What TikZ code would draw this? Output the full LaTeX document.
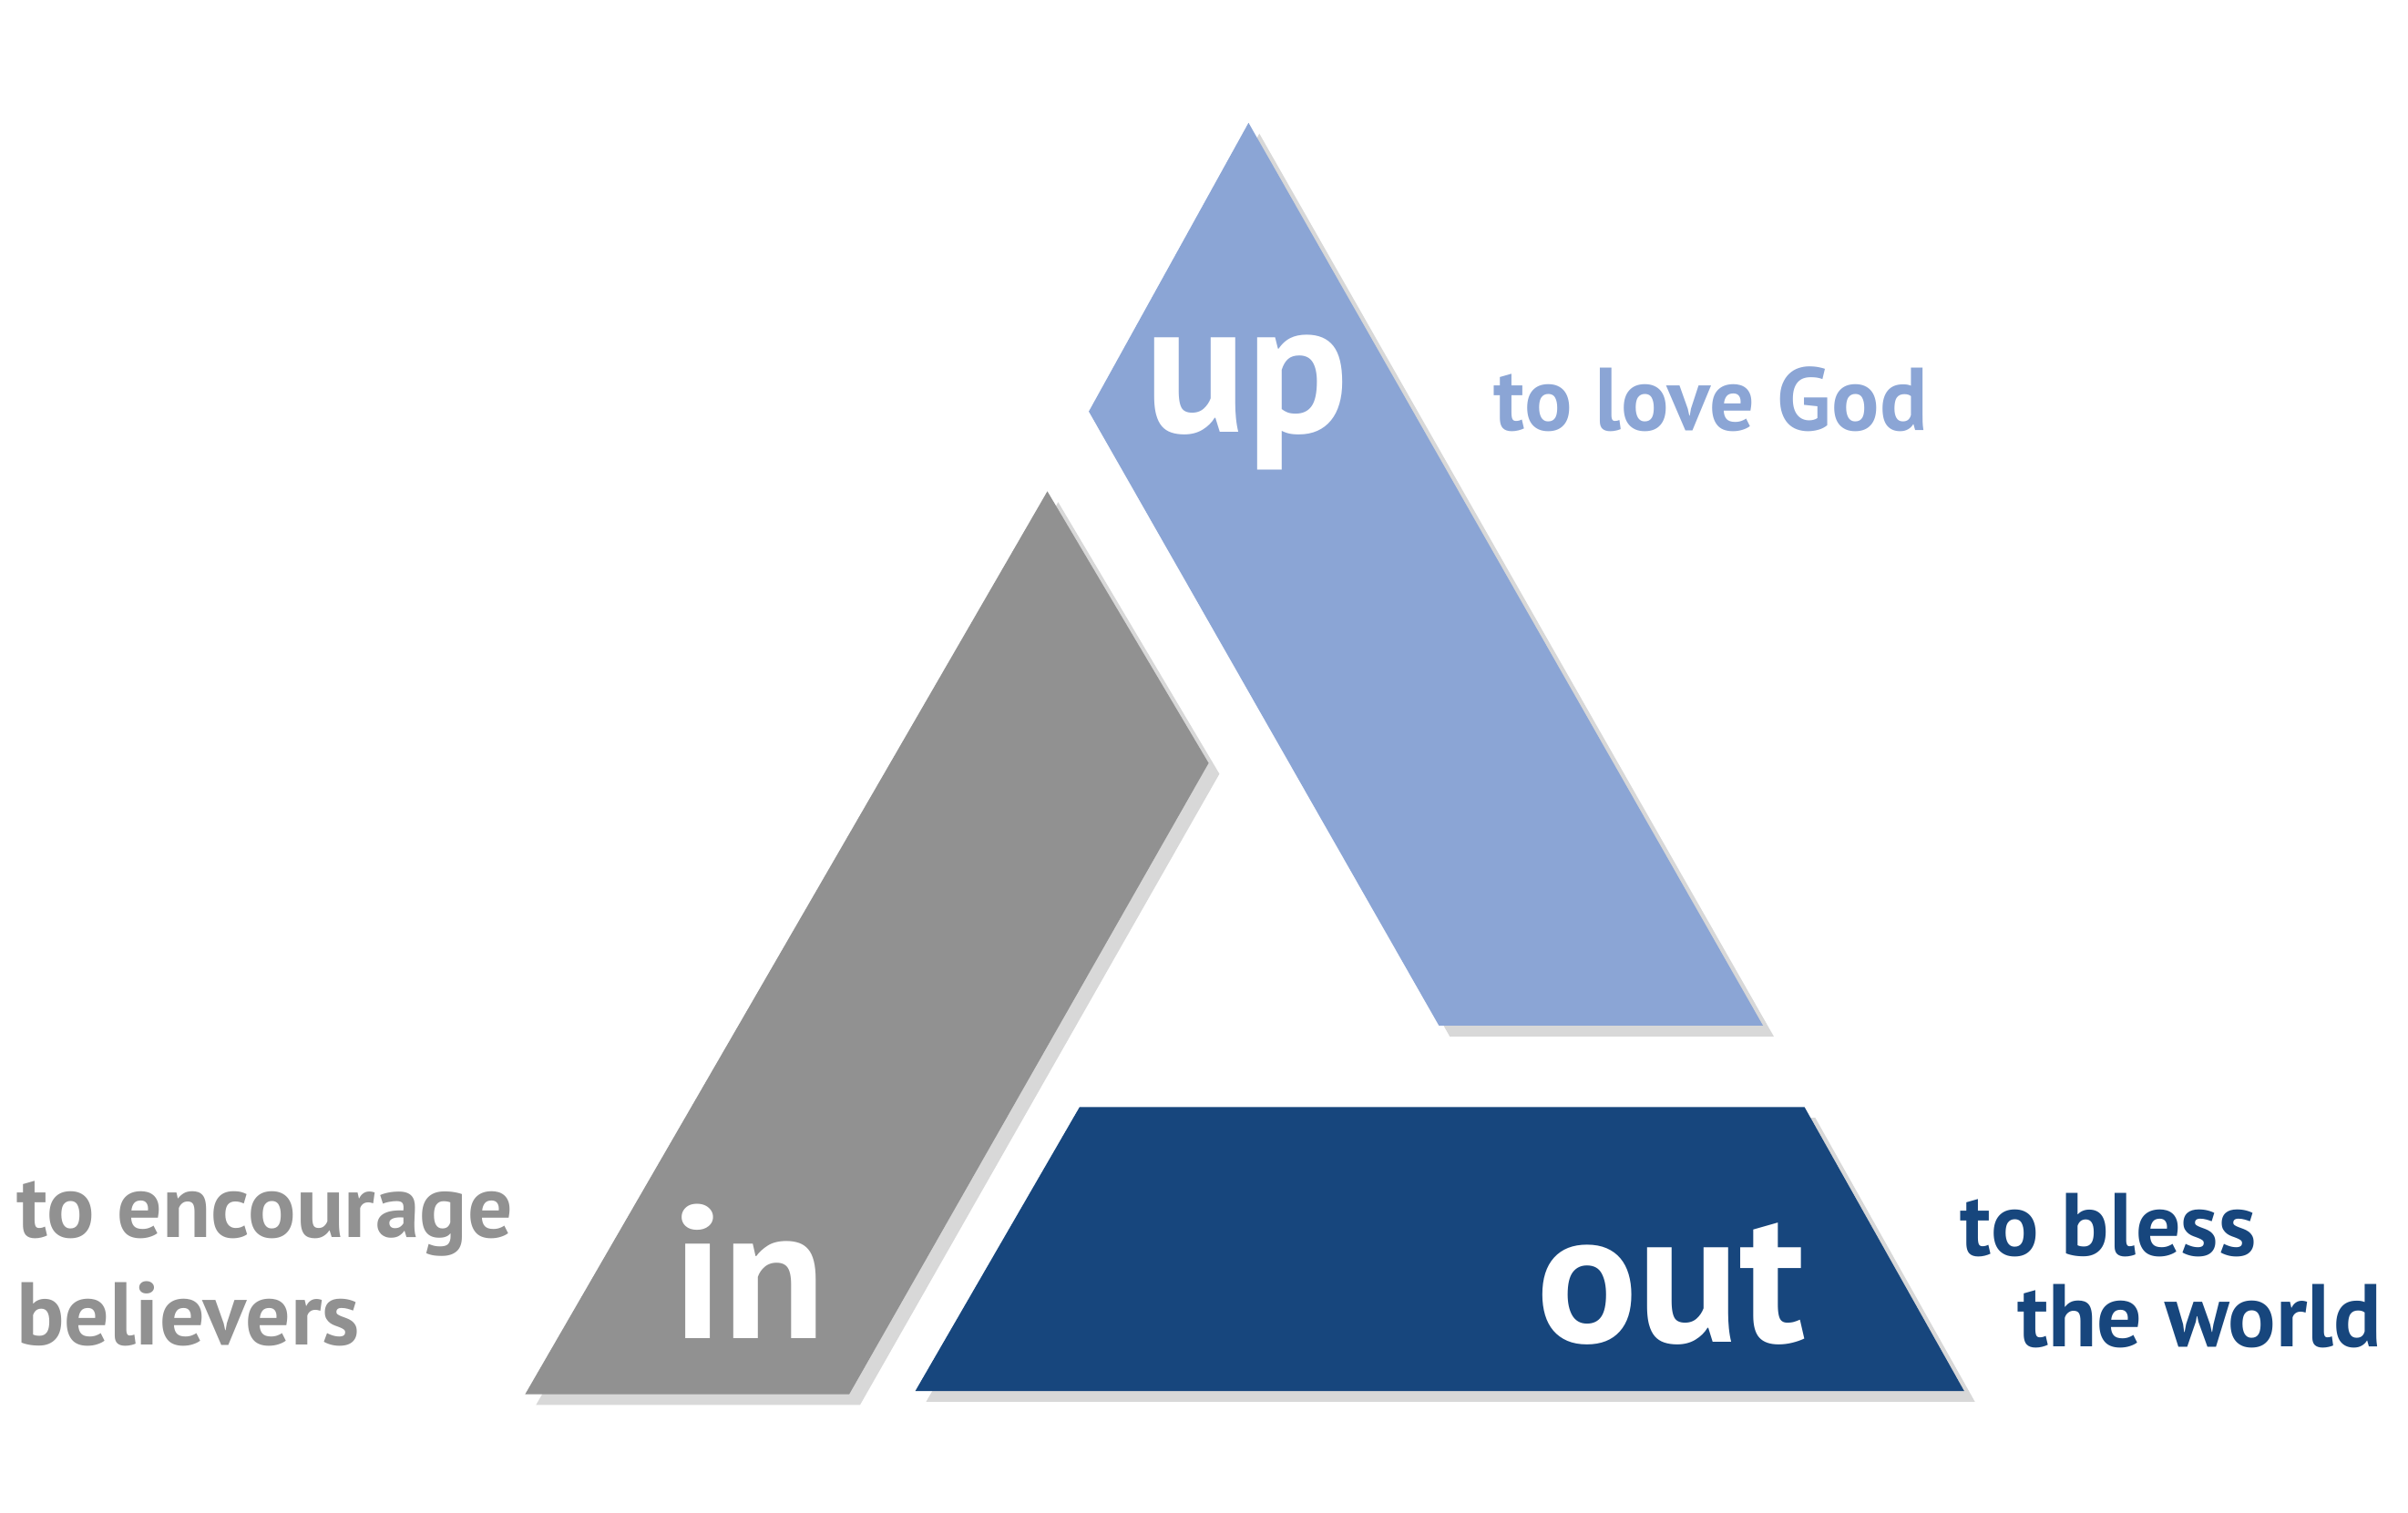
\documentclass[tikz,border=0pt]{standalone}
\usepackage{fontspec}
\setmainfont{PT Sans}
\usetikzlibrary{shadows}
\definecolor{upc}{HTML}{8BA5D5}
\definecolor{inc}{HTML}{919191}
\definecolor{outc}{HTML}{17467D}
\tikzset{
  piece/.style={draw=none, drop shadow={shadow xshift=2pt, shadow yshift=-2pt, opacity=0.25, fill=black!60}},
  big/.style={text=white, font=\fontsize{35}{38}\selectfont\bfseries, inner sep=0pt},
  lab/.style={font=\fontsize{16.5}{20}\selectfont\bfseries, inner sep=0pt, align=left}
}
\begin{document}
\begin{tikzpicture}[x=0.01cm,y=-0.01cm]
\useasboundingbox (0,0) rectangle (1568,985);
\fill[white] (0,0) rectangle (1568,985);
\path[piece, fill=upc] (813,80) -- (1148,668) -- (937,668) -- (709,268) -- cycle;
\path[piece, fill=inc] (682,320) -- (787,497) -- (553,908) -- (342,908) -- cycle;
\path[piece, fill=outc] (703,721) -- (1175,721) -- (1279,906) -- (596,906) -- cycle;
\node[big] (up) at (812,262) {up};
\node[big] (in) at (488,828) {in};
\node[big] (out) at (1088,836) {out};
\node[lab, text=upc, anchor=west] (lgod) at (972,260) {to love God};
\node[lab, text=inc, anchor=west] (lenc) at (10,823) {to encourage\\believers};
\node[lab, text=outc, anchor=west] (lbl) at (1276,798) {to bless};
\node[lab, text=outc, anchor=west] (lwo) at (1313,857) {the world};
\end{tikzpicture}
\end{document}
